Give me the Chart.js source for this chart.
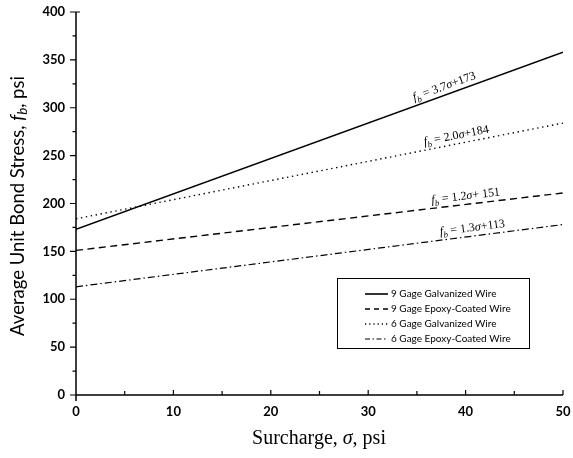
<!DOCTYPE html>
<html><head><meta charset="utf-8">
<script src="https://cdn.jsdelivr.net/npm/chart.js@4"></script>
<style>html,body{margin:0;padding:0;background:#fff}#wrap{width:573px;height:458px;position:relative}</style>
</head><body><div id="wrap"><canvas id="c"></canvas></div>
<script>
// ---- data ----
const surcharge = [0, 50];               // sigma, psi
const gage9Galvanized = [173, 358];      // fb, psi
const gage9Epoxy = [151, 211];
const gage6Galvanized = [184, 284];
const gage6Epoxy = [113, 178];
const seriesNames = ['9 Gage Galvanized Wire', '9 Gage Epoxy-Coated Wire', '6 Gage Galvanized Wire', '6 Gage Epoxy-Coated Wire'];
const equationSlopes = ['3.7', '1.2', '2.0', '1.3'];
const equationIntercepts = ['173', ' 151', '184', '113'];
const equationAtX = [38.1, 40.1, 39.2, 40.8];
const yTickValues = [0, 50, 100, 150, 200, 250, 300, 350, 400];
const xTickValues = [0, 10, 20, 30, 40, 50];

const SERIF = '"Liberation Serif", "Times New Roman", serif';
const SANS = 'Lato, "Open Sans", sans-serif';

function pts(ys) { return surcharge.map((x, i) => ({ x: x, y: ys[i] })); }

const styles = [
  { borderWidth: 1.6, borderDash: [] },
  { borderWidth: 1.4, borderDash: [7, 4.5] },
  { borderWidth: 1.4, borderDash: [1.4, 3.6] },
  { borderWidth: 1.2, borderDash: [7, 3, 1.5, 3] }
];
const seriesData = [gage9Galvanized, gage9Epoxy, gage6Galvanized, gage6Epoxy];

const datasets = seriesData.map((d, i) => ({
  label: seriesNames[i],
  data: pts(d),
  borderColor: '#000',
  backgroundColor: '#000',
  borderWidth: styles[i].borderWidth,
  borderDash: styles[i].borderDash,
  pointRadius: 0,
  fill: false,
  tension: 0
}));

function drawRich(ctx, parts, size, family) {
  let w = 0;
  const m = parts.map(p => {
    const fs = p.sub ? size * 0.72 : size;
    const f = (p.italic ? 'italic ' : '') + fs + 'px ' + family;
    ctx.font = f;
    const pw = ctx.measureText(p.t).width;
    w += pw;
    return { f: f, pw: pw, dy: p.sub ? size * 0.25 : 0, t: p.t };
  });
  let x = -w / 2;
  m.forEach(p => {
    ctx.font = p.f;
    ctx.fillText(p.t, x, p.dy);
    x += p.pw;
  });
}

const decor = {
  id: 'decor',
  afterDraw(chart) {
    const ctx = chart.ctx;
    const xs = chart.scales.x, ys = chart.scales.y;
    const area = chart.chartArea;
    ctx.save();
    ctx.strokeStyle = '#000';
    ctx.fillStyle = '#000';
    ctx.lineWidth = 1.5;
    ctx.setLineDash([]);
    ctx.beginPath();
    ctx.moveTo(xs.getPixelForValue(0), ys.getPixelForValue(400));
    ctx.lineTo(xs.getPixelForValue(0), ys.getPixelForValue(0) + 6);
    ctx.moveTo(xs.getPixelForValue(0), ys.getPixelForValue(0));
    ctx.lineTo(xs.getPixelForValue(50), ys.getPixelForValue(0));
    ctx.stroke();
    ctx.lineWidth = 1.2;
    ctx.beginPath();
    for (let v = 0; v <= 400; v += 25) {
      const py = ys.getPixelForValue(v);
      const L = (v % 50 === 0) ? 6 : 3.5;
      ctx.moveTo(area.left - L, py); ctx.lineTo(area.left, py);
    }
    ctx.moveTo(area.left, ys.getPixelForValue(400)); ctx.lineTo(area.left + 4, ys.getPixelForValue(400));
    for (let v = 5; v <= 50; v += 5) {
      const px = xs.getPixelForValue(v);
      const L = (v % 10 === 0) ? 5 : 4;
      ctx.moveTo(px, area.bottom); ctx.lineTo(px, area.bottom - L);
    }
    ctx.stroke();

    [0, 1, 2, 3].forEach(i => {
      const d = seriesData[i];
      const x0 = xs.getPixelForValue(surcharge[0]), y0 = ys.getPixelForValue(d[0]);
      const x1 = xs.getPixelForValue(surcharge[1]), y1 = ys.getPixelForValue(d[1]);
      const ang = Math.atan2(y1 - y0, x1 - x0);
      const t = (equationAtX[i] - surcharge[0]) / (surcharge[1] - surcharge[0]);
      const dv = d[0] + (d[1] - d[0]) * t;
      const px = xs.getPixelForValue(equationAtX[i]);
      const py = ys.getPixelForValue(dv);
      ctx.save();
      ctx.translate(px, py);
      ctx.rotate(ang);
      ctx.translate(0, -5);
      ctx.textBaseline = 'alphabetic';
      drawRich(ctx, [
        { t: 'f', italic: true },
        { t: 'b', italic: true, sub: true },
        { t: ' = ' + equationSlopes[i] },
        { t: 'σ', italic: true },
        { t: '+' + equationIntercepts[i] }
      ], 12, SERIF);
      ctx.restore();
    });

    const bx = 337, by = 278, bw = 192, bh = 70;
    ctx.fillStyle = '#fff';
    ctx.fillRect(bx, by, bw, bh);
    ctx.strokeStyle = '#000';
    ctx.lineWidth = 1;
    ctx.setLineDash([]);
    ctx.strokeRect(bx + 0.5, by + 0.5, bw, bh);
    ctx.fillStyle = '#000';
    ctx.textBaseline = 'middle';
    ctx.textAlign = 'left';
    ctx.font = '10px ' + SANS;
    [0, 1, 2, 3].forEach((i, r) => {
      const ry = by + 16 + r * 15;
      ctx.lineWidth = datasets[i].borderWidth;
      ctx.setLineDash(i === 1 ? [5, 4] : i === 2 ? [1.2, 3] : i === 3 ? [5, 2.5, 1.5, 2.5] : []);
      ctx.beginPath();
      ctx.moveTo(365, ry); ctx.lineTo(388, ry);
      ctx.stroke();
      ctx.setLineDash([]);
      ctx.fillText(seriesNames[i], 391, ry);
    });

    ctx.fillStyle = '#000';
    ctx.textAlign = 'left';
    ctx.textBaseline = 'middle';
    ctx.save();
    ctx.translate(18, 206);
    ctx.rotate(-Math.PI / 2);
    drawRich(ctx, [
      { t: 'Average Unit Bond Stress, ' },
      { t: 'f', italic: true },
      { t: 'b', italic: true, sub: true },
      { t: ', psi' }
    ], 18.5, SANS);
    ctx.restore();
    ctx.save();
    ctx.translate(319, 439);
    drawRich(ctx, [
      { t: 'Surcharge, ' },
      { t: 'σ', italic: true },
      { t: ', psi' }
    ], 20, SERIF);
    ctx.restore();
    ctx.restore();
  }
};

const hiddenTicks = { display: true, drawOnChartArea: false, drawTicks: true, tickLength: 10, color: 'rgba(0,0,0,0)' };

new Chart(document.getElementById('c'), {
  type: 'line',
  data: { datasets: datasets },
  options: {
    responsive: true,
    maintainAspectRatio: false,
    animation: false,
    layout: { padding: { top: 12, right: 10, left: 0, bottom: 0 } },
    plugins: { legend: { display: false }, tooltip: { enabled: false } },
    scales: {
      x: {
        type: 'linear', min: 0, max: 50,
        afterBuildTicks: s => { s.ticks = xTickValues.map(v => ({ value: v })); },
        afterFit: s => { s.height = 63; },
        grid: Object.assign({}, hiddenTicks, { tickLength: 9 }),
        border: { display: false },
        ticks: { color: '#000', padding: 0, maxRotation: 0, font: { family: SANS, size: 13, weight: 'bold' } }
      },
      y: {
        type: 'linear', min: 0, max: 400,
        afterBuildTicks: s => { s.ticks = yTickValues.map(v => ({ value: v })); },
        afterFit: s => { s.width = 76; },
        grid: Object.assign({}, hiddenTicks, { tickLength: 10 }),
        border: { display: false },
        ticks: { color: '#000', padding: 1, font: { family: SANS, size: 13, weight: 'bold' } }
      }
    }
  },
  plugins: [decor]
});
</script>
</body></html>
